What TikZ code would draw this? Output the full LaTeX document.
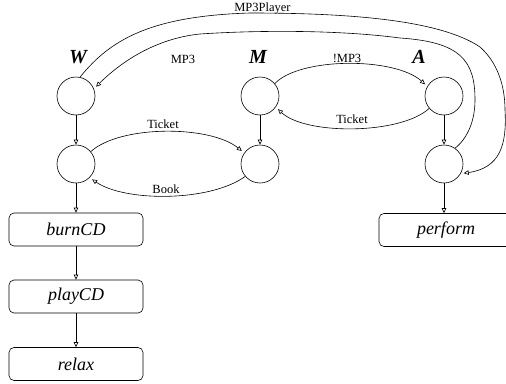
\documentclass[tikz,border=0pt]{standalone}
\usepackage{fontspec}
\setmainfont{Liberation Serif}
\usetikzlibrary{arrows.meta}
\begin{document}
\begin{tikzpicture}[x=1pt,y=1pt,
 state/.style={circle,draw,line width=0.6pt,minimum size=38pt,inner sep=0pt},
 act/.style={draw,line width=0.6pt,rounded corners=5pt,minimum width=134pt,minimum height=33pt,inner sep=0pt,font=\fontsize{18}{20}\selectfont\itshape},
 lbl/.style={font=\fontsize{12.5}{14}\selectfont,inner sep=0pt,anchor=base},
 role/.style={font=\fontsize{20}{24}\selectfont\bfseries\itshape,inner sep=0pt,anchor=base},
 edge/.style={line width=0.6pt,-{Triangle[open,length=5pt,width=4.5pt]}},
 cedge/.style={edge,shorten >=3pt}
]
\useasboundingbox (0,0) rectangle (506,-383);
\clip (0,0) rectangle (506,-383);
% states
\node[state] (W1) at (76,-96) {};
\node[state] (W2) at (76,-164) {};
\node[state] (M1) at (260,-96) {};
\node[state] (M2) at (260,-164) {};
\node[state] (A1) at (444,-96) {};
\node[state] (A2) at (444,-164) {};
% roles
\node[role] (rW) at (78,-63) {W};
\node[role] (rM) at (258,-63) {M};
\node[role] (rA) at (419,-63) {A};
% actions
\node[act] (burn) at (76,-229.5) {burnCD};
\node[act] (play) at (76,-296.5) {playCD};
\node[act] (relax) at (76,-364) {relax};
\node[act] (perform) at (446,-230) {perform};
% vertical edges
\draw[edge] (W1) -- (W2);
\draw[edge] (M1) -- (M2);
\draw[edge] (A1) -- (A2);
\draw[edge] (W2) -- (burn);
\draw[edge] (burn) -- (play);
\draw[edge] (play) -- (relax);
\draw[edge] (A2) -- (A2 |- perform.north);
% curved edges
\draw[cedge] (W2.40) .. controls (120,-125) and (210,-125) .. (M2.145);
\node[lbl] (lt1) at (163,-128) {Ticket};
\draw[cedge] (M2.220) .. controls (210,-202) and (125,-202) .. (W2.-45);
\node[lbl] (lb) at (166,-193) {Book};
\draw[cedge] (M1.40) .. controls (300,-57) and (395,-57) .. (A1.150);
\node[lbl] (lm) at (347,-62) {!MP3};
\draw[cedge] (A1.-140) .. controls (400,-135) and (305,-135) .. (M1.-35);
\node[lbl] (lt2) at (352,-123) {Ticket};
\draw[cedge] (A2.55) .. controls (468,-138) and (475,-120) .. (475,-100)
  .. controls (475,-60) and (460,-42) .. (400,-38)
  .. controls (340,-30) and (260,-30) .. (200,-34)
  .. controls (160,-38) and (125,-58) .. (W1.22);
\node[lbl] (lmp3) at (183,-63) {MP3};
\draw[cedge] (W1.78) .. controls (110,-40) and (150,-16) .. (250,-13)
  .. controls (350,-13) and (440,-20) .. (480,-47)
  .. controls (497,-62) and (505,-85) .. (505,-110)
  .. controls (507,-145) and (500,-168) .. (A2.-30);
\node[lbl] (lpl) at (262.5,-11) {MP3Player};
\end{tikzpicture}
\end{document}
